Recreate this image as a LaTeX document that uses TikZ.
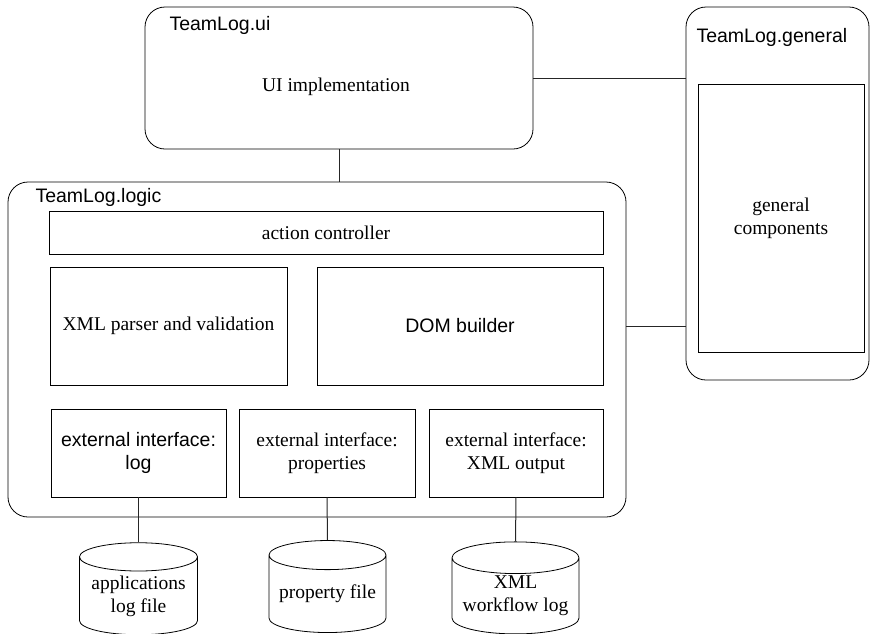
\documentclass[tikz,border=0pt]{standalone}
\usepackage{fontspec}
\setmainfont{Liberation Serif}
\setsansfont{Liberation Sans}
\usetikzlibrary{shapes.geometric}
\newcommand{\diagsize}{\fontsize{19.5}{23}\selectfont}
\tikzset{
	pkg/.style={draw, rounded corners=20pt, line width=0.8pt},
	part/.style={draw, line width=0.8pt, align=center, inner sep=0pt},
	store/.style={draw, cylinder, shape border rotate=90, aspect=0.3,
			line width=0.8pt, align=center, inner sep=0pt},
	sans/.style={font=\diagsize\sffamily},
	pkglabel/.style={anchor=base west, sans},
	link/.style={line width=1pt, draw=black!85}
}

\begin{document}
\begin{tikzpicture}[x=1pt, y=-1pt, font=\diagsize]
\useasboundingbox (0, 0) rectangle (870, 633);
% Packages
\node[pkg, minimum width=388, minimum height=142] (ui) at (339, 78) {};
\node[pkg, minimum width=183, minimum height=373] (general) at (777.5, 193.5) {};
\node[pkg, minimum width=618, minimum height=335] (logic) at (317, 349.5) {};
\node[pkglabel] at (166, 30) {TeamLog.ui};
\node[pkglabel] at (693, 42) {TeamLog.general};
\node[pkglabel] at (32, 202) {TeamLog.logic};
\node (uiimpl) at (336, 87) {UI implementation};
% Components
\node[part, minimum width=166, minimum height=268] (gencomp) at (781, 218) {general\\components};
\node[part, minimum width=554, minimum height=43] (action) at (326, 232.5) {action controller};
\node[part, minimum width=237, minimum height=118] (parser) at (168.5, 326) {XML parser and validation};
\node[part, minimum width=286, minimum height=118, sans] (dom) at (460, 326) {DOM builder};
\node[part, minimum width=175, minimum height=88, sans] (extlog) at (138.5, 453) {external interface:\\log};
\node[part, minimum width=176, minimum height=88] (extprop) at (327, 453) {external interface:\\properties};
\node[part, minimum width=174, minimum height=88] (extxml) at (516, 453) {external interface:\\XML output};
% Files
\node[store, minimum width=118, minimum height=92] (logfile) at (138.5, 596) {applications\\log file};
\node[store, minimum width=117, minimum height=92] (propfile) at (327.5, 594) {property file};
\node[store, minimum width=127, minimum height=92] (wflog) at (515.5, 596) {XML\\workflow log};
% Connections
\draw[link] (ui.south) -- (ui.south |- logic.north);
\draw[link] (ui.east) -- (ui.east -| general.west);
\draw[link] (logic.east |- dom.east) -- (dom.east -| general.west);
\draw[link] (extlog.south) -- (logfile.top);
\draw[link] (extprop.south) -- (propfile.top);
\draw[link] (extxml.south) -- (wflog.top);
\end{tikzpicture}
\end{document}
